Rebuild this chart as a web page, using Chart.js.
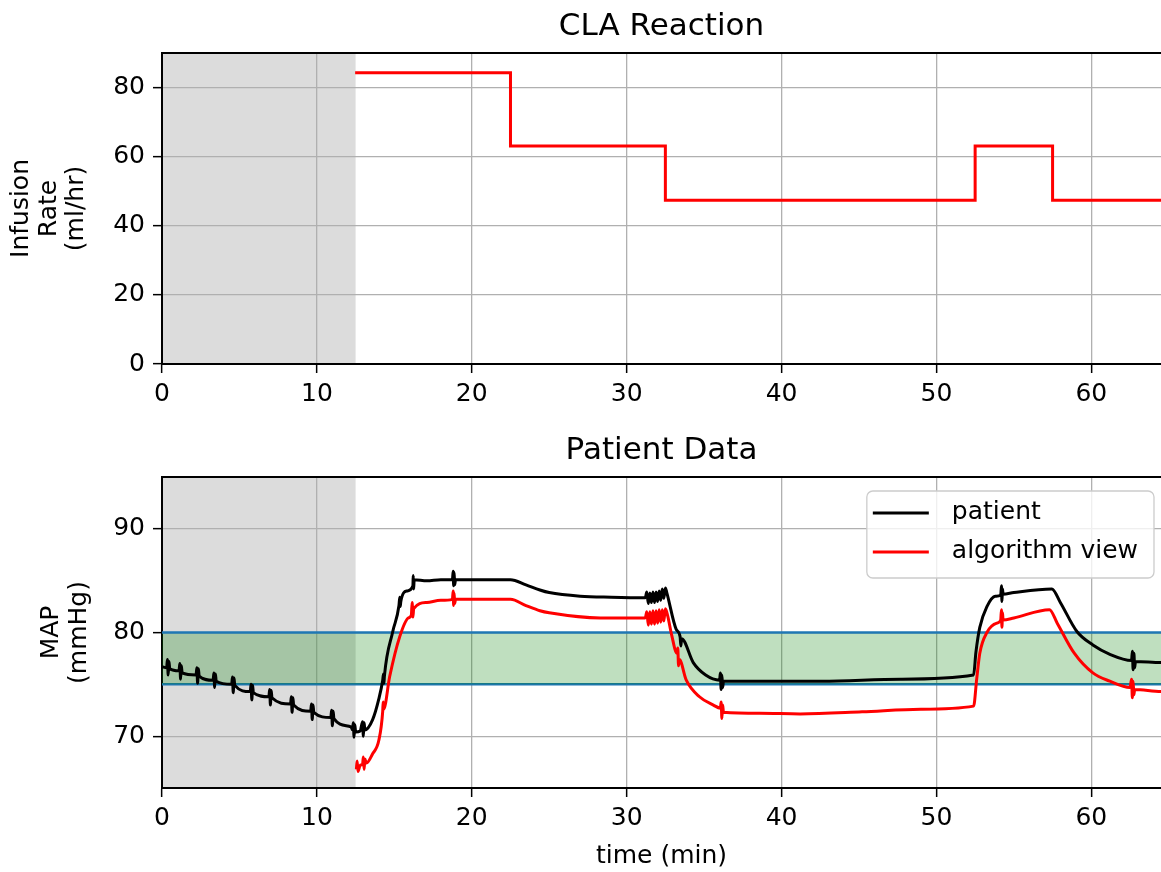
<!DOCTYPE html>
<html>
<head>
<meta charset="utf-8">
<script src="https://cdn.jsdelivr.net/npm/chart.js@4.4.0/dist/chart.umd.min.js"></script>
<style>
  html, body { margin: 0; padding: 0; background: #ffffff; }
  #wrap { position: relative; width: 1161px; height: 872px; overflow: hidden; background: #fff; }
  canvas { position: absolute; left: 0; }
  #rateCanvas { top: 0; }
  #mapCanvas { top: 424px; }
</style>
</head>
<body>
<div id="wrap">
  <canvas id="rateCanvas" width="1161" height="424"></canvas>
  <canvas id="mapCanvas" width="1161" height="448"></canvas>
</div>
<script>
// ---------------- data ----------------
const xRange = [0, 64.5];
const xTicks = [0, 10, 20, 30, 40, 50, 60];
const rateTicks = [0, 20, 40, 60, 80];
const mapTicks = [70, 80, 90];
const shadeSpan = [0, 12.5];          // grey calibration period (min)
const targetBand = [75, 80];          // MAP target band (mmHg)

// Top: CLA infusion rate (step changes)
const rateTime  = [12.47, 22.5, 32.5, 52.5, 57.5, 66];
const rateValue = [84.3, 63.1, 47.4, 63.1, 47.4, 47.4];

// Bottom: patient MAP
const patientTime = [
  0.0, 0.3, 0.35, 0.4, 0.45, 0.5,
  1.1, 1.15, 1.2, 1.25, 1.3,
  2.2, 2.25, 2.3, 2.35, 2.4,
  3.3, 3.35, 3.4, 3.45, 3.5,
  4.5, 4.55, 4.6, 4.65, 4.7,
  5.7, 5.75, 5.8, 5.85, 5.9,
  6.9, 6.95, 7.0, 7.05, 7.1,
  8.3, 8.35, 8.4, 8.45, 8.5,
  9.6, 9.65, 9.7, 9.75, 9.8,
  10.9, 10.95, 11.0, 11.05, 11.1,
  12.2, 12.3, 12.35, 12.4, 12.45, 12.5,
  12.8, 12.95, 13.0, 13.05, 13.1,
  13.6, 14.0, 14.25, 14.3, 14.33, 14.36,
  14.9, 15.3, 15.35, 15.38, 15.42, 15.8,
  16.2, 16.22, 16.25, 16.28, 17.1, 18.0,
  18.75, 18.8, 18.83, 18.86, 18.9, 18.95,
  22.5, 23.5, 24.4, 25.0, 27.0, 29.0, 31.2,
  31.3, 31.4, 31.5, 31.6, 31.7, 31.8, 31.9, 32.0, 32.1, 32.2, 32.3, 32.4, 32.5, 32.6,
  33.2, 33.45, 33.5, 33.55, 34.3, 35.1,
  36.0, 36.05, 36.1, 36.15, 36.2, 36.25,
  38.6, 42.6, 47.7, 52.4,
  52.55, 52.8, 53.26, 53.8,
  54.15, 54.2, 54.23, 54.27, 54.3,
  55.0, 57.45, 58.0, 59.07, 60.1, 61.2,
  62.6, 62.65, 62.7, 62.75, 62.8, 62.85,
  64.5, 65.5
];
const patientMap = [
  76.7, 76.6, 77.4, 75.9, 77.2, 76.5,
  76.3, 77.0, 75.5, 76.8, 76.1,
  75.9, 76.6, 75.1, 76.5, 75.8,
  75.4, 76.1, 74.7, 76.0, 75.3,
  75.0, 75.7, 74.2, 75.6, 74.9,
  74.3, 75.0, 73.5, 74.9, 74.2,
  73.8, 74.5, 73.0, 74.4, 73.7,
  73.1, 73.8, 72.3, 73.7, 73.0,
  72.4, 73.1, 71.6, 73.0, 72.3,
  71.8, 72.5, 71.0, 72.4, 71.7,
  70.9, 70.6, 71.3, 69.9, 71.1, 70.4,
  70.5, 71.4, 70.0, 71.3, 70.6,
  71.6, 73.6, 75.4, 76.0, 75.1, 75.8,
  80.1, 82.6, 83.4, 82.5, 83.0, 84.0,
  84.5, 85.5, 84.2, 85.1, 85.0, 85.1,
  85.1, 85.9, 84.5, 85.8, 84.6, 85.1,
  85.1, 84.6, 84.1, 83.85, 83.5, 83.4, 83.35,
  83.9, 82.8, 83.8, 82.9, 83.9, 82.9, 83.9, 83.0, 84.0, 83.1, 84.2, 83.3, 84.3, 83.8,
  80.3, 79.6, 78.7, 79.4, 77.1, 75.9,
  75.4, 76.1, 74.5, 75.9, 74.7, 75.3,
  75.3, 75.3, 75.5, 75.9,
  78.1, 80.5, 82.5, 83.5,
  83.6, 84.5, 83.0, 84.2, 83.7,
  83.86, 84.2, 82.9, 80.1, 78.8, 77.9,
  77.3, 78.2, 76.4, 78.0, 76.6, 77.2,
  77.1, 77.1
];

// Bottom: algorithm view of MAP
const algoTime = [
  12.55, 12.6, 12.65, 12.8, 12.95, 13.0, 13.05, 13.1, 13.2,
  13.6, 14.0, 14.25, 14.28, 14.31, 14.7, 15.35,
  15.9, 16.1, 16.15, 16.2, 16.25, 17.1, 18.0,
  18.75, 18.8, 18.83, 18.86, 18.9, 18.95,
  22.5, 23.5, 24.4, 25.0, 28.3, 31.2,
  31.3, 31.4, 31.5, 31.6, 31.7, 31.8, 31.9, 32.0, 32.1, 32.2, 32.3, 32.4, 32.5,
  32.65, 32.9, 33.25, 33.3, 33.35, 33.4, 33.85, 34.7, 35.6,
  36.05, 36.1, 36.15, 36.2, 36.25,
  38.6, 41.2, 45.2, 49.0, 52.4,
  52.6, 52.8, 53.26, 53.9,
  54.15, 54.2, 54.23, 54.27, 54.3,
  55.0, 57.3, 57.8, 58.9, 60.1, 61.2, 62.5,
  62.6, 62.65, 62.7, 62.75, 62.8,
  64.5, 65.5
];
const algoMap = [
  66.8, 67.6, 66.6, 67.2, 67.3, 68.0, 66.8, 67.8, 67.4,
  68.3, 69.6, 72.4, 73.3, 72.6, 75.75, 79.6,
  81.4, 81.7, 82.9, 81.5, 82.3, 82.9, 83.1,
  83.2, 84.0, 82.6, 83.8, 82.8, 83.2,
  83.2, 82.6, 82.1, 81.9, 81.4, 81.4,
  82.0, 80.7, 82.0, 80.8, 82.1, 80.8, 82.1, 80.9, 82.2, 81.0, 82.2, 81.1, 82.3,
  81.6, 79.8, 78.0, 78.5, 76.8, 77.4, 75.4, 73.8, 73.0,
  72.7, 73.3, 71.7, 73.0, 72.3,
  72.2, 72.15, 72.35, 72.6, 72.9,
  75.5, 78.0, 80.0, 80.9,
  81.2, 82.2, 80.5, 81.9, 81.2,
  81.4, 82.2, 80.9, 78.0, 76.1, 75.3, 74.7,
  75.5, 73.7, 75.3, 74.0, 74.5,
  74.3, 74.3
];

// ---------------- helpers ----------------
const toPoints = (xs, ys) => xs.map((t, i) => ({ x: t, y: ys[i] }));

Chart.defaults.font.family = "'DejaVu Sans', 'Liberation Sans', sans-serif";
Chart.defaults.color = '#000';
Chart.defaults.animation = false;

const GRID_COLOR = '#b0b0b0';
const TICK_FONT = { size: 25 };
const LABEL_FONT = { size: 25, lineHeight: 1.1 };

const shadePlugin = {
  id: 'shade',
  beforeDraw(chart) {
    const { ctx, chartArea: a, scales: { x } } = chart;
    const x0 = Math.max(a.left, x.getPixelForValue(shadeSpan[0]));
    const x1 = Math.min(a.right, x.getPixelForValue(shadeSpan[1]));
    ctx.save();
    ctx.fillStyle = '#dcdcdc';
    ctx.fillRect(x0, a.top, x1 - x0, a.bottom - a.top);
    ctx.restore();
  }
};

const boxLegend = {
  id: 'boxLegend',
  afterDraw(chart) {
    const { ctx, chartArea: a } = chart;
    const items = chart.data.datasets.filter(d => d.inLegend);
    ctx.save();
    ctx.font = "25px 'DejaVu Sans'";
    const tw = Math.max(...items.map(d => ctx.measureText(d.label).width));
    const w = 85 + tw + 16, h = 87;
    const right = a.right - 7, left = right - w, top = a.top + 14;
    ctx.beginPath();
    if (ctx.roundRect) ctx.roundRect(left, top, w, h, 6); else ctx.rect(left, top, w, h);
    ctx.fillStyle = 'rgba(255,255,255,0.8)';
    ctx.fill();
    ctx.lineWidth = 1.3;
    ctx.strokeStyle = '#cccccc';
    ctx.stroke();
    items.forEach((d, i) => {
      const y = top + 22 + i * 39;
      ctx.beginPath();
      ctx.moveTo(left + 6, y);
      ctx.lineTo(left + 62, y);
      ctx.strokeStyle = d.borderColor;
      ctx.lineWidth = 2.8;
      ctx.stroke();
      ctx.fillStyle = '#000';
      ctx.textBaseline = 'middle';
      ctx.textAlign = 'left';
      ctx.fillText(d.label, left + 85, y - 1);
    });
    ctx.restore();
  }
};

const fixedTicks = values => s => { s.ticks = values.map(v => ({ value: v })); };

function bottomAxis(withTitle, height) {
  return {
    type: 'linear', position: 'bottom', min: xRange[0], max: xRange[1],
    afterBuildTicks: fixedTicks(xTicks),
    ticks: { font: TICK_FONT, padding: 6, maxRotation: 0, autoSkip: false },
    grid: { color: GRID_COLOR, lineWidth: 1.3, tickColor: '#000', tickLength: 9, tickWidth: 1.5 },
    border: { color: '#000', width: 2 },
    title: { display: withTitle, text: 'time (min)', font: { size: 25, lineHeight: 1.2 }, padding: { top: 0, bottom: 1 } },
    afterFit: s => { s.height = height; }
  };
}
function topAxis(title) {
  return {
    type: 'linear', position: 'top', min: xRange[0], max: xRange[1],
    ticks: { display: false },
    grid: { display: false, drawTicks: false },
    border: { color: '#000', width: 2 },
    title: { display: true, text: title, font: { size: 31, lineHeight: 1.2 }, padding: { top: 8, bottom: 0 } },
    afterFit: s => { s.height = 53; }
  };
}
function leftAxis(min, max, tickValues, title, titlePad) {
  return {
    type: 'linear', position: 'left', min, max,
    afterBuildTicks: fixedTicks(tickValues),
    ticks: { font: TICK_FONT, padding: 8 },
    grid: { color: GRID_COLOR, lineWidth: 1.3, tickColor: '#000', tickLength: 9, tickWidth: 1.5 },
    border: { color: '#000', width: 2 },
    title: { display: true, text: title, font: LABEL_FONT, padding: { top: titlePad, bottom: 0 } },
    afterFit: s => { s.width = 162; }
  };
}

// ---------------- top chart ----------------
new Chart(document.getElementById('rateCanvas'), {
  type: 'line',
  data: {
    datasets: [{
      label: 'CLA infusion rate',
      data: toPoints(rateTime, rateValue),
      stepped: 'before',
      borderColor: '#ff0000',
      borderWidth: 3,
      pointRadius: 0,
      fill: false
    }]
  },
  options: {
    responsive: false,
    devicePixelRatio: 1,
    layout: { padding: 0 },
    plugins: { legend: { display: false }, tooltip: { enabled: false }, title: { display: false } },
    scales: {
      x: bottomAxis(false, 60),
      x2: topAxis('CLA Reaction'),
      y: leftAxis(0, 90, rateTicks, ['Infusion', 'Rate', '(ml/hr)'], 8)
    }
  },
  plugins: [shadePlugin]
});

// ---------------- bottom chart ----------------
new Chart(document.getElementById('mapCanvas'), {
  type: 'line',
  data: {
    datasets: [
      { label: 'target low', data: toPoints([-1, 66], [targetBand[0], targetBand[0]]),
        borderColor: '#1f77b4', borderWidth: 2.5, pointRadius: 0, fill: false, order: 10 },
      { label: 'target high', data: toPoints([-1, 66], [targetBand[1], targetBand[1]]),
        borderColor: '#1f77b4', borderWidth: 2.5, pointRadius: 0, fill: '-1',
        backgroundColor: 'rgba(0,128,0,0.25)', order: 9 },
      { label: 'patient', inLegend: true, data: toPoints(patientTime, patientMap),
        borderColor: '#000000', borderWidth: 3, pointRadius: 0, fill: false,
        cubicInterpolationMode: 'monotone', order: 2 },
      { label: 'algorithm view', inLegend: true, data: toPoints(algoTime, algoMap),
        borderColor: '#ff0000', borderWidth: 3, pointRadius: 0, fill: false,
        cubicInterpolationMode: 'monotone', order: 1 }
    ]
  },
  options: {
    responsive: false,
    devicePixelRatio: 1,
    layout: { padding: 0 },
    plugins: { legend: { display: false }, tooltip: { enabled: false }, title: { display: false } },
    scales: {
      x: bottomAxis(true, 84),
      x2: topAxis('Patient Data'),
      y: leftAxis(65, 95, mapTicks, ['MAP', '(mmHg)'], 38)
    }
  },
  plugins: [shadePlugin, boxLegend]
});
</script>
</body>
</html>
